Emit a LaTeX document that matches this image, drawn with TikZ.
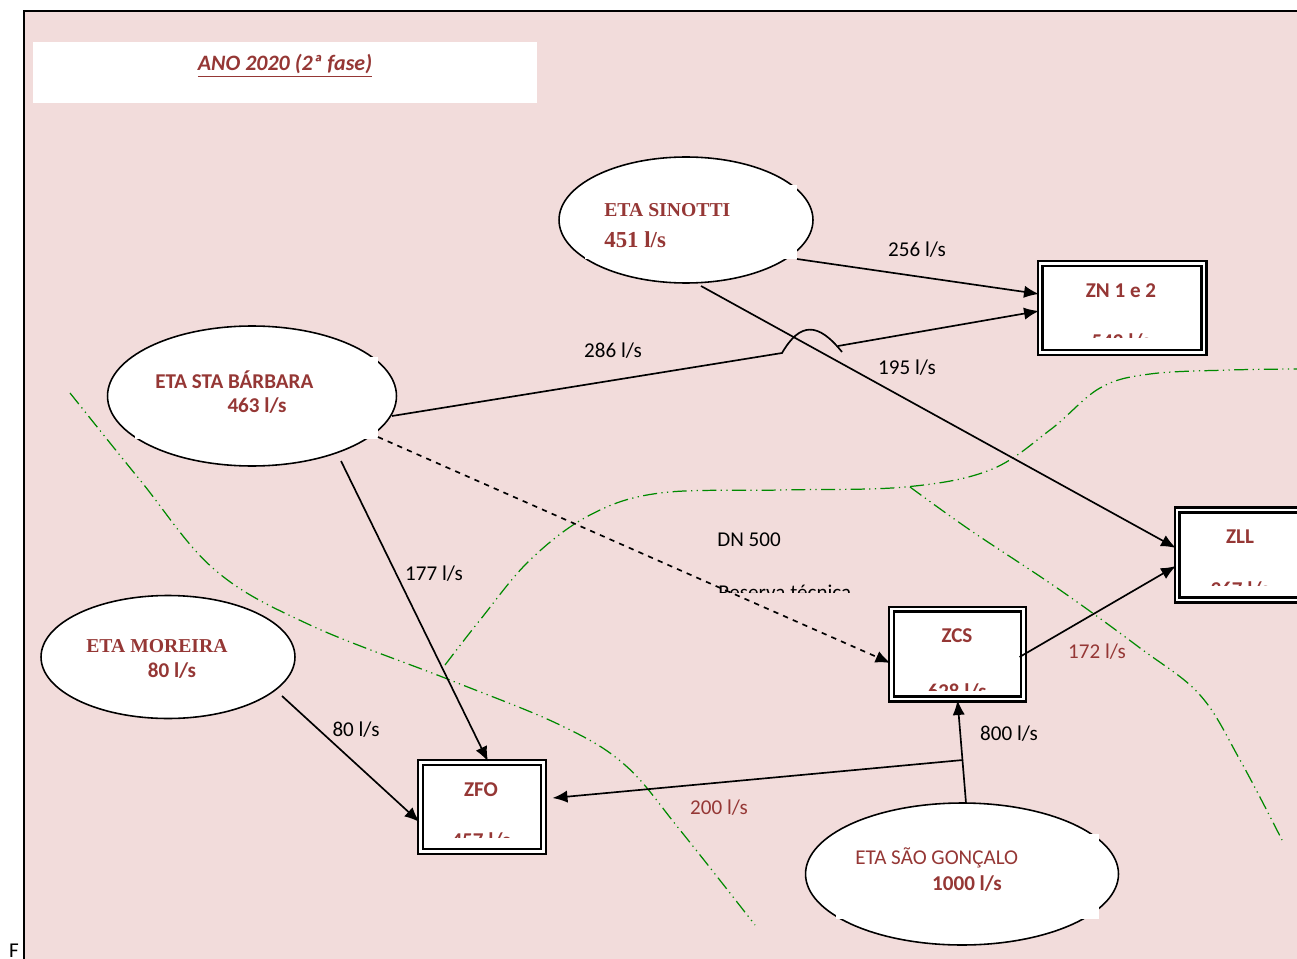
\documentclass[tikz,border=0pt]{standalone}
\usepackage{fontspec}
\setmainfont{Carlito}
\newfontfamily\serifeta{Liberation Serif}
\usetikzlibrary{arrows.meta,calc,shapes.geometric}
\definecolor{pinkbg}{HTML}{F2DCDB}
\definecolor{darkred}{HTML}{953735}
\definecolor{zonegreen}{HTML}{008A00}
\tikzstyle{eta}=[ellipse, draw, fill=white, line width=0.9pt, inner sep=0pt]
\tikzstyle{zonebox}=[rectangle, draw, double, fill=white, line width=1.2pt, double distance=1.6pt, inner sep=0pt]
\tikzstyle{flow}=[-{Latex[length=8.5pt,width=7pt]}, line width=0.95pt]
\tikzstyle{lbl}=[font=\fontsize{12}{14}\selectfont, inner sep=0pt]
\tikzstyle{redlbl}=[lbl, text=darkred]
\tikzstyle{boldred}=[inner sep=0pt, text=darkred, font=\fontsize{12}{14}\selectfont\bfseries]
\tikzstyle{serifred}=[inner sep=0pt, text=darkred, font=\fontsize{11.2}{14}\selectfont\serifeta\bfseries]
\tikzstyle{boundary}=[zonegreen, line width=0.7pt, dash pattern=on 8pt off 2.5pt on 0.7pt off 2.5pt on 0.7pt off 2.5pt]

\begin{document}
\begin{tikzpicture}[x=0.02cm, y=-0.02cm]
		   \useasboundingbox (0,0) rectangle (1297,959);
		   % sheet
		   \fill[pinkbg] (24,11) rectangle (1297,959);
		   \draw[line width=0.9pt] (24,959) -- (24,11) -- (1297,11);
		   \node (pageF) at (14,957)[lbl, anchor=base] {F};
		   % title
		   \node (titlebox) at (285,72.5)[rectangle, fill=white, minimum width=10.08cm, minimum height=1.22cm] {};
		   \node (title) at (285,66)[boldred, font=\fontsize{12.5}{14}\selectfont\bfseries\itshape] {\underline{ANO 2020 (2ª fase)}};
		   % zone limits
		   \draw[boundary] plot[smooth, tension=0.6] coordinates {(70,393) (140,480) (215,570) (310,625) (450,680) (560,725) (625,765) (680,830) (755,925)};
		   \draw[boundary] plot[smooth, tension=0.6] coordinates {(445,665) (480,620) (530,560) (590,515) (660,493) (780,490) (905,487) (990,470) (1050,430) (1100,388) (1150,374) (1230,370) (1297,369)};
		   \draw[boundary] plot[smooth, tension=0.6] coordinates {(910,487) (970,530) (1060,590) (1140,648) (1200,695) (1240,760) (1282,840)};
		   \begin{scope}
			   \node (sinotti) at (686,220)[eta, minimum width=5.08cm, minimum height=2.52cm] {};
			   \node (barbara) at (252,396)[eta, minimum width=5.78cm, minimum height=2.8cm] {};
			   \node (moreira) at (168,657)[eta, minimum width=5.08cm, minimum height=2.46cm] {};
			   \node (saogoncalo) at (962,874)[eta, minimum width=6.26cm, minimum height=2.84cm] {};
			   \fill[white] ($(sinotti)+(-101,-35)$) rectangle ($(sinotti)+(111,39)$);
			   \fill[white] ($(barbara)+(-117,-39)$) rectangle ($(barbara)+(126,43)$);
			   \fill[white] ($(saogoncalo)+(-126,-40)$) rectangle ($(saogoncalo)+(137,45)$);
			   \node (sinottiname) at (604,210)[serifred, anchor=west] {ETA SINOTTI};
			   \node (sinottiflow) at (604,240)[serifred, font=\fontsize{13}{14}\selectfont\serifeta\bfseries, anchor=west] {451 l/s};
			   \node (barbaraname) at (155,380)[boldred, anchor=west] {ETA STA BÁRBARA};
			   \node (barbaraflow) at (257,406)[boldred] {463 l/s};
			   \node (moreiraname) at (86,646)[serifred, anchor=west] {ETA MOREIRA};
			   \node (moreiraflow) at (172,671)[boldred] {80 l/s};
			   \node (saogoncaloname) at (855,858)[redlbl, anchor=west] {ETA SÃO GONÇALO};
			   \node (saogoncaloflow) at (967,884)[boldred] {1000 l/s};
		   \end{scope}
		   \begin{scope}
			   \node (zn) at (1122,308)[zonebox, minimum width=3.28cm, minimum height=1.79cm] {};
			   \node (zll) at (1257,555)[zonebox, minimum width=3.2cm, minimum height=1.8cm] {};
			   \node (zcs) at (957.5,654)[zonebox, minimum width=2.64cm, minimum height=1.8cm] {};
			   \node (zfo) at (482,807)[zonebox, minimum width=2.46cm, minimum height=1.78cm] {};
			   \node (znname) at (1121,291)[boldred] {ZN 1 e 2};
			   \node (zllname) at (1240,537)[boldred] {ZLL};
			   \node (zcsname) at (957,636)[boldred] {ZCS};
			   \node (zfoname) at (481,790)[boldred] {ZFO};
			   \begin{scope}
				   \clip (1000,300) rectangle (1200,337);
				   \node (znflow) at (1121,348)[boldred, anchor=base] {542 l/s};
			   \end{scope}
			   \begin{scope}
				   \clip (1185,550) rectangle (1297,585);
				   \node (zllflow) at (1240,596)[boldred, anchor=base] {367 l/s};
			   \end{scope}
			   \begin{scope}
				   \clip (900,650) rectangle (1015,690);
				   \node (zcsflow) at (957,698)[boldred, anchor=base] {628 l/s};
			   \end{scope}
			   \begin{scope}
				   \clip (430,800) rectangle (535,837);
				   \node (zfoflow) at (481,847)[boldred, anchor=base] {457 l/s};
			   \end{scope}
		   \end{scope}
		   \begin{scope}
			   \coordinate (hopin) at (782,353);
			   \coordinate (hopout) at (842,352);
			   \coordinate (hopnext) at (838,346);
			   \coordinate (junction) at (963,760);
			   \path [flow] ($(sinotti)+(111,39)$) edge ($(zn.west)+(0,-14)$);
			   \draw [line width=0.95pt] ($(barbara)+(140,20)$) -- (hopin) .. controls (800,322) and (818,322) .. (hopout);
			   \path [flow] (hopnext) edge ($(zn.west)+(0,3)$);
			   \path [flow] ($(sinotti)+(15,66)$) edge ($(zll.west)+(0,-7)$);
			   \path [flow] ($(barbara)+(89,65)$) edge ($(zfo.north)+(6,0)$);
			   \path [flow, dashed] ($(barbara)+(126,41)$) edge ($(zcs.west)+(0,9)$);
			   \path [flow] ($(moreira)+(114,39)$) edge ($(zfo.west)+(0,15)$);
			   \path [flow] ($(zcs.east)+(-5,3)$) edge ($(zll.west)+(0,11)$);
			   \path [flow] ($(saogoncalo)+(4,-71)$) edge (zcs.south);
			   \path [flow] (junction) edge ($(zfo.east)+(8,-9)$);
		   \end{scope}
		   \begin{scope}
			   \node (q256) at (917,250)[lbl] {256 l/s};
			   \node (q286) at (613,351)[lbl] {286 l/s};
			   \node (q195) at (907,368)[lbl] {195 l/s};
			   \node (q177) at (434,574)[lbl] {177 l/s};
			   \node (dn500) at (749,540)[lbl] {DN 500};
			   \begin{scope}
				   \clip (700,570) rectangle (870,592);
				   \node (reserva) at (718,599)[lbl, anchor=base west] {Reserva técnica};
			   \end{scope}
			   \node (q80) at (356,730)[lbl] {80 l/s};
			   \node (q800) at (1009,734)[lbl] {800 l/s};
			   \node (q172) at (1097,652)[redlbl] {172 l/s};
			   \node (q200) at (719,808)[redlbl] {200 l/s};
		   \end{scope}
	   \end{tikzpicture}
\end{document}
